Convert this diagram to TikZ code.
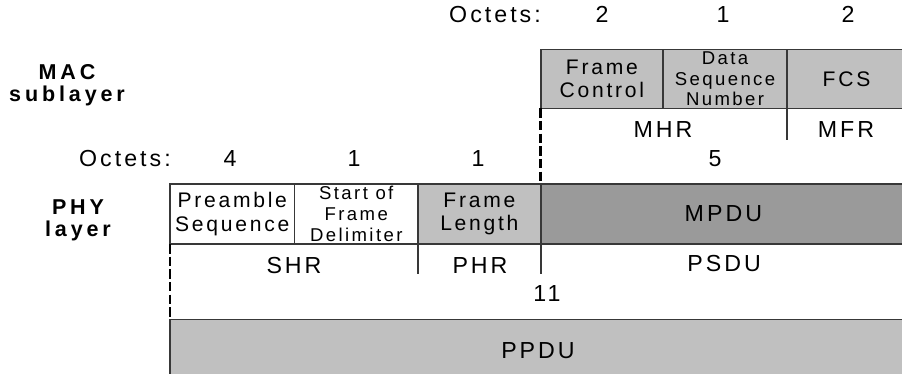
\documentclass[tikz,border=0pt]{standalone}
\usepackage{fontspec}
\setmainfont{Liberation Sans}[LetterSpace=13]
\usetikzlibrary{positioning,calc}
\definecolor{fieldgray}{HTML}{C0C0C0}
\definecolor{payloadgray}{HTML}{9A9A9A}
\definecolor{rulegray}{HTML}{383838}

\tikzset{
  field/.style={draw=rulegray, line width=0.75pt},
  fieldtext/.style={align=center, font=\fontsize{10}{11}\selectfont, inner sep=0pt},
  smalltext/.style={align=center, font=\fontsize{8.8}{9.8}\selectfont, inner sep=0pt},
  bigtext/.style={font=\fontsize{11}{12}\selectfont, inner sep=0pt},
  layertext/.style={align=center, font=\bfseries\fontsize{10.2}{10.6}\selectfont\addfontfeature{LetterSpace=18}, inner sep=0pt},
  boundary/.style={draw=black, line width=1.3pt, dash pattern=on 4.5pt off 1.5pt},
}

\begin{document}
\begin{tikzpicture}
    \useasboundingbox (0,0) rectangle (15.033,6.217);
    \clip (0,0) rectangle (15.033,6.217);

    % MAC sublayer
    \node[layertext] (mac) at (1.117,4.8) {MAC\\sublayer};
    \node[bigtext] (macoct) at (8.25,5.97) {Octets:};
    \node[bigtext] (fcoct) at (10.033,5.97) {2};
    \node[bigtext] (dsnoct) at (12.05,5.97) {1};
    \node[bigtext] (fcsoct) at (14.133,5.97) {2};

    \draw[field, fill=fieldgray] (9.012,4.412) rectangle (11.05,5.395) node[midway, fieldtext] (fc) {Frame\\Control};
    \draw[field, fill=fieldgray] (11.05,4.412) rectangle (13.117,5.395) node[midway, smalltext] (dsn) {Data\\Sequence\\Number};
    \draw[field, fill=fieldgray] (13.117,4.412) rectangle (15.1,5.395) node[midway, fieldtext] (fcs) {FCS};

    \draw[field] (13.117,4.412) -- (13.117,3.883);
    \node[bigtext] (mhr) at (11.05,4.05) {MHR};
    \node[bigtext] (mfr) at (14.1,4.05) {MFR};
    \draw[boundary] (9.012,4.412) -- (9.012,3.15);

    % PHY layer
    \node[layertext] (phy) at (1.3,2.55) {PHY\\layer};
    \node[bigtext] (phyoct) at (2.083,3.567) {Octets:};
    \node[bigtext] (preoct) at (3.833,3.567) {4};
    \node[bigtext] (sfdoct) at (5.9,3.567) {1};
    \node[bigtext] (floct) at (7.967,3.567) {1};
    \node[bigtext] (mpduoct) at (11.917,3.567) {5};

    \draw[field] (2.833,2.15) rectangle (4.908,3.15) node[midway, fieldtext] (pre) {Preamble\\Sequence};
    \draw[field] (4.908,2.15) rectangle (6.967,3.15) node[midway, smalltext] (sfd) {Start of\\Frame\\Delimiter};
    \draw[field, fill=fieldgray] (6.967,2.15) rectangle (9.012,3.15) node[midway, fieldtext] (fl) {Frame\\Length};
    \draw[field, fill=payloadgray] (9.012,2.15) rectangle (15.1,3.15) node[midway, bigtext] (mpdu) {MPDU};

    \draw[field] (6.967,2.15) -- (6.967,1.65);
    \draw[field] (9.012,2.15) -- (9.012,1.65);
    \node[bigtext] (shr) at (4.9,1.8) {SHR};
    \node[bigtext] (phr) at (8.0,1.8) {PHR};
    \node[bigtext] (psdu) at (12.07,1.817) {PSDU};
    \node[bigtext] (ppduoct) at (9.117,1.333) {11};
    \draw[boundary, line width=1pt] (2.833,2.15) -- (2.833,0.892);

    \draw[field, fill=fieldgray] (2.833,-0.158) rectangle (15.1,0.892) node[midway, bigtext] (ppdu) {PPDU};
\end{tikzpicture}
\end{document}
